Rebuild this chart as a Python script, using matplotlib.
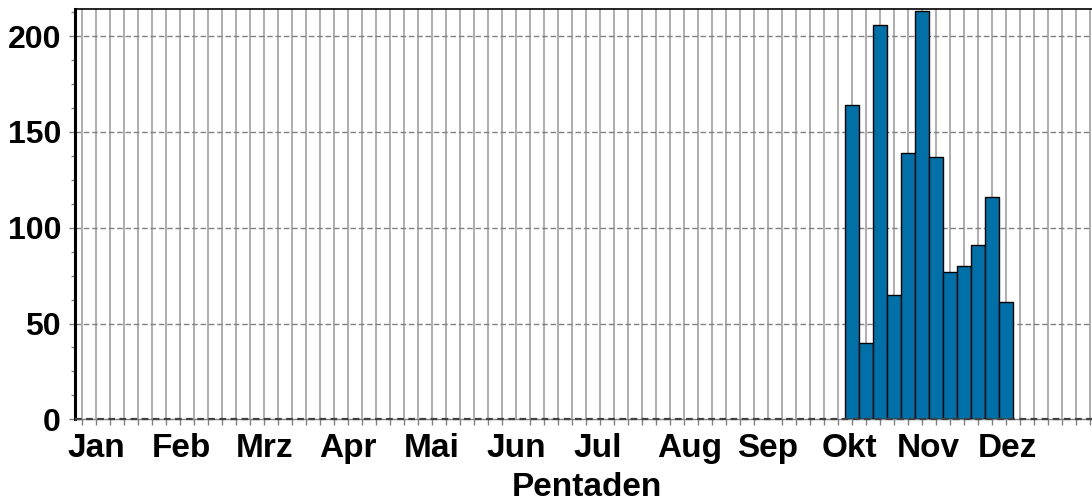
import matplotlib
matplotlib.use("Agg")
import matplotlib.pyplot as plt
from matplotlib.ticker import FixedLocator, MultipleLocator
import numpy as np

# Data: pentad counts (73 pentads per year)
pentads = list(range(1, 74))
counts = [0] * 55 + [164, 40, 206, 65, 139, 213, 137, 77, 80, 91, 116, 61] + [0] * 6
month_labels = ["Jan", "Feb", "Mrz", "Apr", "Mai", "Jun", "Jul", "Aug", "Sep", "Okt", "Nov", "Dez"]
month_pos = [1.55, 7.57, 13.57, 19.46, 25.46, 31.5, 37.32, 43.93, 49.5, 55.29, 60.93, 66.61]
y_ticks = [0, 50, 100, 150, 200]

plt.rcParams['font.family'] = ['Liberation Sans', 'DejaVu Sans']

W, H = 1092, 503
fig = plt.figure(figsize=(W / 100, H / 100), dpi=100)
ax = fig.add_axes([75 / W, (H - 419.3) / H, 1022 / W, 410 / H])

xs = [p - 0.5 for p, c in zip(pentads, counts) if c > 0]
hs = [c for c in counts if c > 0]
ax.bar(xs, hs, width=1.0, color="#0070a8", edgecolor="black", linewidth=1.0, zorder=3)

ax.set_xlim(0, 73)
ax.set_ylim(0, 214)

# vertical grid at pentad centres
for p in pentads:
    ax.axvline(p - 0.5, color="#a8a8a8", linewidth=1.3, zorder=1)
for y in y_ticks[1:]:
    ax.axhline(y, color="#808080", linewidth=1.0, linestyle=(0, (4, 2)), zorder=1)
ax.axhline(0, color="#404040", linewidth=1.6, linestyle=(0, (3, 2)), zorder=4, clip_on=False)

ax.xaxis.set_major_locator(FixedLocator(month_pos))
ax.set_xticklabels(month_labels, fontsize=24, fontweight="bold")
ax.xaxis.set_minor_locator(FixedLocator([p - 0.5 for p in pentads]))
ax.tick_params(axis="x", which="major", length=0, pad=10)
ax.tick_params(axis="x", which="minor", length=4, width=1, color="#808080", direction="out")

ax.set_yticks(y_ticks)
ax.set_yticklabels([str(v) for v in y_ticks], fontsize=23, fontweight="bold")
ax.yaxis.set_minor_locator(MultipleLocator(12.5))
ax.tick_params(axis="y", which="major", length=4, width=1, color="#808080", pad=6)
ax.tick_params(axis="y", which="minor", length=3, width=1, color="#808080")

ax.spines["right"].set_visible(False)
ax.spines["left"].set_linewidth(2.2)
ax.spines["left"].set_color("black")
ax.spines["top"].set_linewidth(1.2)
ax.spines["bottom"].set_color("#808080")
ax.spines["bottom"].set_linewidth(1.0)

ax.set_xlabel("Pentaden", fontsize=24, fontweight="bold")
ax.xaxis.set_label_coords((586.7 - 75) / 1022, -(472 - 419.3) / 410)

fig.savefig("out.png", dpi=100)
